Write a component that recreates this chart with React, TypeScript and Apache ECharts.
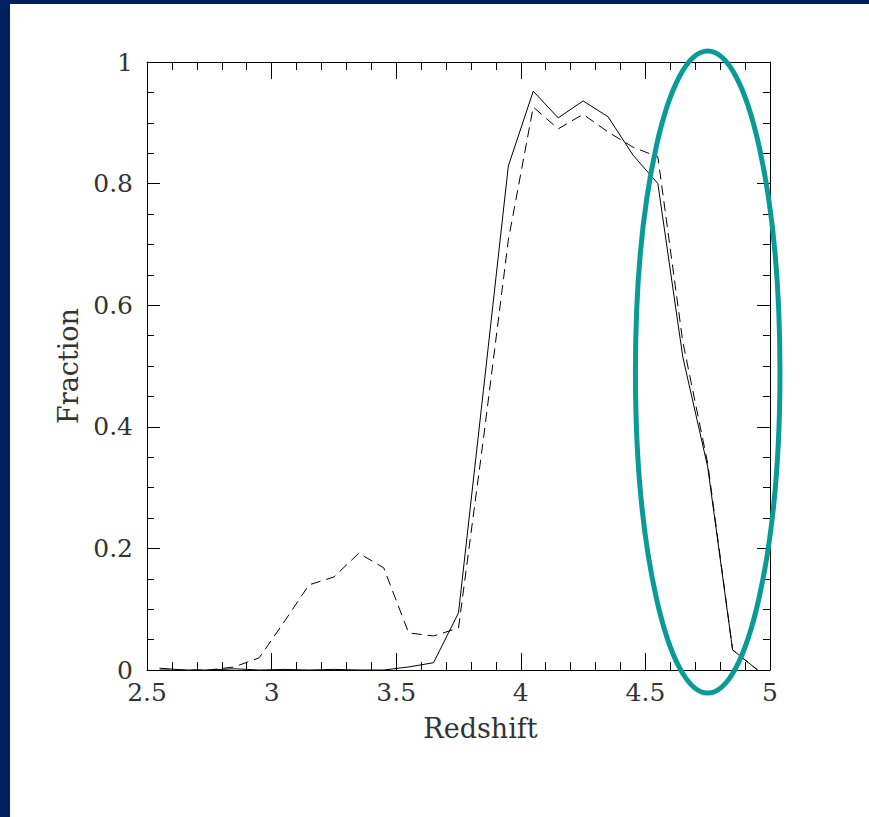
import React, { useEffect, useRef } from "react";
import * as echarts from "echarts";

const redshift = [2.55, 2.65, 2.75, 2.85, 2.95, 3.05, 3.15, 3.25, 3.35, 3.45, 3.55, 3.65, 3.75, 3.85, 3.95, 4.05, 4.15, 4.25, 4.35, 4.45, 4.55, 4.65, 4.75, 4.85, 4.95];
const solidFraction = [0.003, 0.0, 0.0, 0.002, 0.0, 0.001, 0.0, 0.001, 0.0, 0.0, 0.005, 0.012, 0.094, 0.46, 0.829, 0.952, 0.908, 0.936, 0.91, 0.847, 0.8, 0.515, 0.334, 0.033, 0.0];
const dashedFraction = [0.0, 0.0, 0.0, 0.005, 0.02, 0.079, 0.14, 0.153, 0.192, 0.168, 0.061, 0.056, 0.069, 0.38, 0.707, 0.926, 0.89, 0.914, 0.885, 0.86, 0.844, 0.54, 0.34, 0.033, 0.0];
const xTicks = [2.5, 3, 3.5, 4, 4.5, 5];
const yTicks = [0, 0.2, 0.4, 0.6, 0.8, 1];
// annotation ellipse (data units): centre and semi-axes
const ellipseCenter = [4.75, 0.49];
const ellipseRadii = [0.29, 0.528];

const FONT = "DejaVu Serif";

export default function App() {
  const ref = useRef<HTMLDivElement>(null);
  useEffect(() => {
    if (!ref.current) return;
    const chart = echarts.init(ref.current, null, { renderer: "svg" });
    const axisCommon = {
      type: "value" as const,
      axisLine: { show: true, onZero: false, lineStyle: { color: "#000", width: 1 } },
      splitLine: { show: false },
    };
    const labelStyle = { color: "#333", fontFamily: FONT, fontSize: 25, fontWeight: 300 };
    const solid = redshift.map((x, i) => [x, solidFraction[i]]);
    const dashed = redshift.map((x, i) => [x, dashedFraction[i]]);
    chart.setOption({
      animation: false,
      backgroundColor: "#fff",
      grid: { left: 147, top: 62, width: 623, height: 608, containLabel: false },
      xAxis: [
        {
          ...axisCommon,
          position: "bottom",
          min: xTicks[0],
          max: xTicks[xTicks.length - 1],
          interval: 0.5,
          axisTick: { show: true, inside: true, length: 17, lineStyle: { color: "#000" } },
          minorTick: { show: true, splitNumber: 5, length: 8, lineStyle: { color: "#000" } },
          axisLabel: { ...labelStyle, margin: 10, formatter: (v: number) => String(v) },
          name: "Redshift",
          nameLocation: "middle",
          nameGap: 45,
          nameTextStyle: { color: "#333", fontFamily: FONT, fontSize: 27, padding: [0, 0, 0, 44] },
        },
        {
          ...axisCommon,
          position: "top",
          min: xTicks[0],
          max: xTicks[xTicks.length - 1],
          interval: 0.5,
          axisTick: { show: true, inside: true, length: 17, lineStyle: { color: "#000" } },
          minorTick: { show: true, splitNumber: 5, length: 8, lineStyle: { color: "#000" } },
          axisLabel: { show: false },
        },
      ],
      yAxis: [
        {
          ...axisCommon,
          position: "left",
          min: yTicks[0],
          max: yTicks[yTicks.length - 1],
          interval: 0.2,
          axisTick: { show: true, inside: true, length: 13, lineStyle: { color: "#000" } },
          minorTick: { show: true, splitNumber: 4, length: 7, lineStyle: { color: "#000" } },
          axisLabel: { ...labelStyle, margin: 14, formatter: (v: number) => String(Math.round(v * 10) / 10) },
          name: "Fraction",
          nameLocation: "middle",
          nameRotate: 90,
          nameGap: 60,
          nameTextStyle: { color: "#333", fontFamily: FONT, fontSize: 27 },
        },
        {
          ...axisCommon,
          position: "right",
          min: yTicks[0],
          max: yTicks[yTicks.length - 1],
          interval: 0.2,
          axisTick: { show: true, inside: true, length: 13, lineStyle: { color: "#000" } },
          minorTick: { show: true, splitNumber: 4, length: 7, lineStyle: { color: "#000" } },
          axisLabel: { show: false },
        },
      ],
      series: [
        {
          type: "line",
          data: solid,
          showSymbol: false,
          symbol: "none",
          lineStyle: { color: "#000", width: 1, type: "solid" },
          z: 3,
        },
        {
          type: "line",
          data: dashed,
          showSymbol: false,
          symbol: "none",
          lineStyle: { color: "#000", width: 1, type: [10, 6] },
          z: 2,
        },
      ],
    });
    const c = chart.convertToPixel({ xAxisIndex: 0, yAxisIndex: 0 }, ellipseCenter) as number[];
    const e = chart.convertToPixel({ xAxisIndex: 0, yAxisIndex: 0 }, [ellipseCenter[0] + ellipseRadii[0], ellipseCenter[1] + ellipseRadii[1]]) as number[];
    chart.setOption({
      graphic: [
        {
          type: "ellipse",
          shape: { cx: c[0], cy: c[1], rx: Math.abs(e[0] - c[0]), ry: Math.abs(e[1] - c[1]) },
          style: { fill: "none", stroke: "#0a9b98", lineWidth: 5 },
          z: 100,
        },
        { type: "rect", shape: { x: 0, y: 0, width: 10, height: 817 }, style: { fill: "#012060" }, z: 200 },
        { type: "rect", shape: { x: 0, y: 0, width: 869, height: 4 }, style: { fill: "#012060" }, z: 200 },
      ],
    });
    return () => chart.dispose();
  }, []);
  return (
    <div style={{ position: "fixed", left: 0, top: 0, width: 869, height: 817, background: "#fff" }}>
      <div ref={ref} style={{ width: 869, height: 817 }} />
    </div>
  );
}
